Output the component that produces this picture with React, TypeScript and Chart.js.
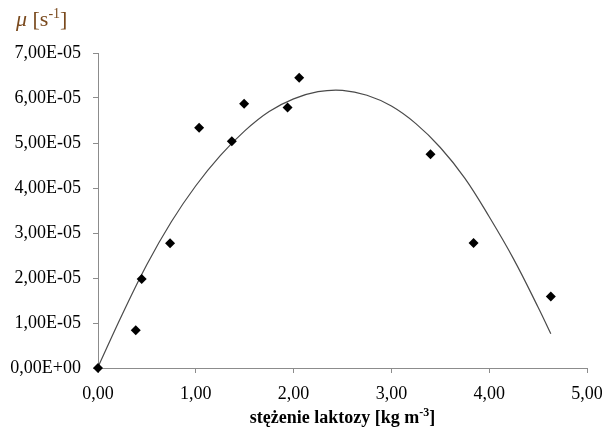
import React, { useEffect, useRef } from "react";
import { Chart, registerables } from "chart.js";

Chart.register(...registerables);

// Measured data: lactose concentration [kg m^-3] vs specific growth rate [s^-1]
const concentration = [0, 0.386, 0.447, 0.737, 1.034, 1.368, 1.494, 1.938, 2.057, 3.40, 3.84, 4.63];
const growthRate = [0.0, 0.84e-5, 1.98e-5, 2.77e-5, 5.34e-5, 5.04e-5, 5.87e-5, 5.79e-5, 6.45e-5, 4.75e-5, 2.78e-5, 1.59e-5];

// Trend line
const trendX = [0, 0.25, 0.5, 0.75, 1.0, 1.25, 1.5, 1.75, 2.0, 2.25, 2.5, 2.75, 3.0, 3.25, 3.5, 3.75, 4.0, 4.25, 4.5, 4.63];
const trendY = [0.02e-5, 1.2e-5, 2.3e-5, 3.25e-5, 4.05e-5, 4.72e-5, 5.27e-5, 5.7e-5, 5.98e-5, 6.14e-5, 6.17e-5, 6.06e-5, 5.82e-5, 5.43e-5, 4.9e-5, 4.22e-5, 3.36e-5, 2.42e-5, 1.35e-5, 0.76e-5];

const xTickLabels = ["0,00", "1,00", "2,00", "3,00", "4,00", "5,00"];
const yTickLabels = ["0,00E+00", "1,00E-05", "2,00E-05", "3,00E-05", "4,00E-05", "5,00E-05", "6,00E-05", "7,00E-05"];

const xTitleMain = "stężenie laktozy [kg m";
const xTitleSup = "-3";
const xTitleEnd = "]";
const yTitleSymbol = "μ";
const yTitleMain = " [s";
const yTitleSup = "-1";
const yTitleEnd = "]";

const SERIF = '"Liberation Serif", "Times New Roman", serif';

const titlePlugin = {
  id: "customTitles",
  afterDraw(chart: any) {
    const ctx = chart.ctx as CanvasRenderingContext2D;
    const area = chart.chartArea;
    ctx.save();
    // Y title (top-left)
    ctx.fillStyle = "#7a4a1e";
    ctx.textBaseline = "alphabetic";
    ctx.textAlign = "left";
    let x = 16;
    const yb = 26;
    ctx.font = `italic 22px ${SERIF}`;
    ctx.fillText(yTitleSymbol, x, yb);
    x += ctx.measureText(yTitleSymbol).width;
    ctx.font = `22px ${SERIF}`;
    ctx.fillText(yTitleMain, x, yb);
    x += ctx.measureText(yTitleMain).width;
    ctx.font = `14px ${SERIF}`;
    ctx.fillText(yTitleSup, x, yb - 8);
    x += ctx.measureText(yTitleSup).width;
    ctx.font = `22px ${SERIF}`;
    ctx.fillText(yTitleEnd, x, yb);

    // X title (bottom, centered)
    ctx.fillStyle = "#000000";
    const mainFont = `bold 18px ${SERIF}`;
    const supFont = `bold 12px ${SERIF}`;
    ctx.font = mainFont;
    const w1 = ctx.measureText(xTitleMain).width;
    const w3 = ctx.measureText(xTitleEnd).width;
    ctx.font = supFont;
    const w2 = ctx.measureText(xTitleSup).width;
    const total = w1 + w2 + w3;
    let xx = (area.left + area.right) / 2 - total / 2;
    const xb = 423;
    ctx.font = mainFont;
    ctx.fillText(xTitleMain, xx, xb);
    xx += w1;
    ctx.font = supFont;
    ctx.fillText(xTitleSup, xx, xb - 7);
    xx += w2;
    ctx.font = mainFont;
    ctx.fillText(xTitleEnd, xx, xb);
    ctx.restore();
  },
};

export default function App() {
  const ref = useRef<HTMLCanvasElement | null>(null);

  useEffect(() => {
    if (!ref.current) return;
    const chart = new Chart(ref.current, {
      type: "scatter",
      data: {
        datasets: [
          {
            label: "trend",
            data: trendX.map((x, i) => ({ x, y: trendY[i] })),
            showLine: true,
            borderColor: "#4a4a4a",
            borderWidth: 1.2,
            pointRadius: 0,
            tension: 0.4,
            fill: false,
            clip: false,
            order: 2,
          },
          {
            label: "data",
            data: concentration.map((x, i) => ({ x, y: growthRate[i] })),
            pointStyle: "rectRot",
            pointRadius: 5,
            backgroundColor: "#000000",
            borderColor: "#000000",
            borderWidth: 0,
            clip: false,
            order: 1,
          },
        ],
      },
      options: {
        animation: false,
        responsive: false,
        layout: { padding: { left: 0, top: 53, right: 15, bottom: 0 } },
        plugins: {
          legend: { display: false },
          tooltip: { enabled: false },
          title: { display: false },
        },
        scales: {
          x: {
            type: "linear",
            min: 0,
            max: 5,
            afterFit: (axis: any) => {
              axis.height = 59;
              axis.paddingLeft = 0;
              axis.paddingRight = 0;
            },
            border: { display: true, color: "#8c8c8c", width: 1 },
            grid: {
              drawOnChartArea: false,
              drawTicks: true,
              tickLength: 5,
              tickColor: "#8c8c8c",
            },
            ticks: {
              stepSize: 1,
              maxRotation: 0,
              padding: 10,
              color: "#000000",
              font: { family: SERIF, size: 18 },
              callback: (_v: any, i: number) => xTickLabels[i],
            },
          },
          y: {
            type: "linear",
            min: 0,
            max: 7e-5,
            afterFit: (axis: any) => {
              axis.width = 98;
              axis.paddingTop = 0;
              axis.paddingBottom = 0;
            },
            border: { display: true, color: "#8c8c8c", width: 1 },
            grid: {
              drawOnChartArea: false,
              drawTicks: true,
              tickLength: 5,
              tickColor: "#8c8c8c",
            },
            ticks: {
              stepSize: 1e-5,
              padding: 12,
              color: "#000000",
              font: { family: SERIF, size: 18 },
              callback: (_v: any, i: number) => yTickLabels[i],
            },
          },
        },
      },
      plugins: [titlePlugin],
    });
    return () => chart.destroy();
  }, []);

  return (
    <div style={{ position: "fixed", left: 0, top: 0, width: 602, height: 427, background: "#ffffff" }}>
      <canvas ref={ref} width={602} height={427} />
    </div>
  );
}
